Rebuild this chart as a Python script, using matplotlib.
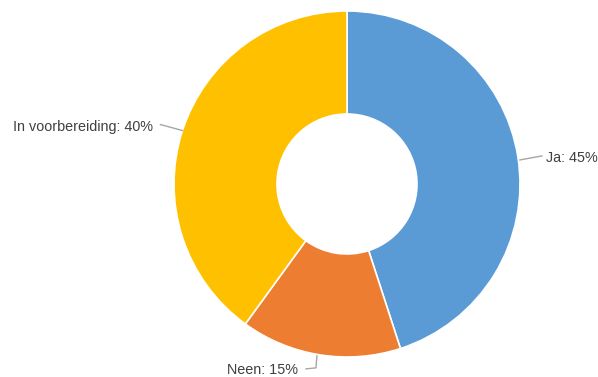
import numpy as np
import matplotlib
matplotlib.use("Agg")
import matplotlib.pyplot as plt

labels = ["Ja", "Neen", "In voorbereiding"]
values = [45, 15, 40]
colors = ["#5B9BD5", "#ED7D31", "#FFC000"]

W, H = 598, 377
fig = plt.figure(figsize=(W / 100, H / 100), dpi=100)
ax = fig.add_axes([0, 0, 1, 1])
cx, cy, R, r_in = 347, 193, 173, 70
wedges, _ = ax.pie(values, colors=colors, center=(cx, cy), radius=R, startangle=90,
                   counterclock=False,
                   wedgeprops=dict(width=R - r_in, edgecolor="white", linewidth=1.2))
ax.set_xlim(0, W)
ax.set_ylim(0, H)
ax.set_aspect("equal")
ax.axis("off")

line_c = "#a6a6a6"
txt_c = "#404040"
fs = 10.4
for i, w in enumerate(wedges):
    mid = np.deg2rad((w.theta1 + w.theta2) / 2)
    ex, ey = cx + R * np.cos(mid), cy + R * np.sin(mid)
    text = f"{labels[i]}: {values[i]}%"
    if i == 0:
        ax.plot([ex + 2, ex + 24], [ey - 3, ey + 1], color=line_c, lw=1)
        ax.text(ex + 28, ey - 1, text, ha="left", va="center", fontsize=fs,
                color=txt_c, family="Liberation Sans")
    elif i == 1:
        ax.plot([ex - 3, ex - 4, ex - 14], [ey - 1, ey - 13, ey - 14], color=line_c, lw=1)
        ax.text(ex - 22, ey - 15, text, ha="right", va="center", fontsize=fs,
                color=txt_c, family="Liberation Sans")
    else:
        ax.plot([ex, ex - 22], [ey, ey + 6], color=line_c, lw=1)
        ax.text(ex - 29, ey + 4, text, ha="right", va="center", fontsize=fs,
                color=txt_c, family="Liberation Sans")

fig.savefig("out.png", dpi=100, facecolor="white")
